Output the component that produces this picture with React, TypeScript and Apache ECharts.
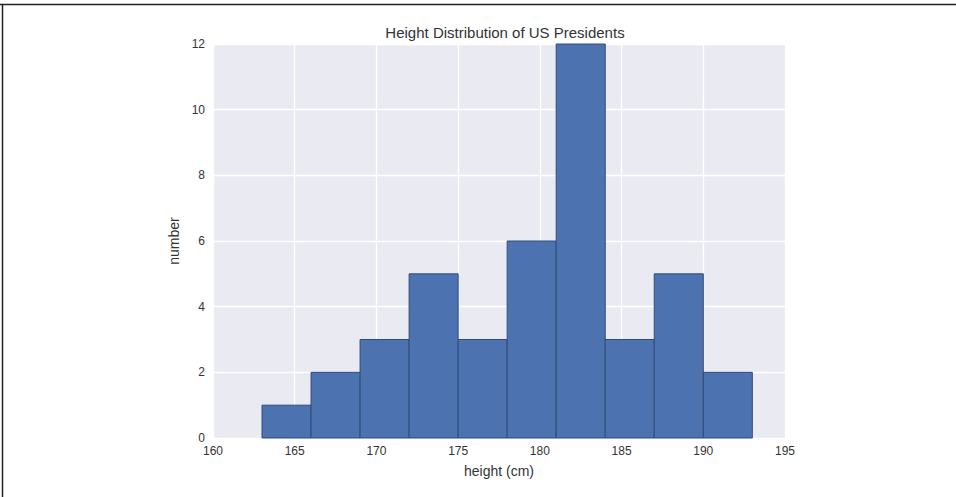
import React, { useEffect, useRef } from "react";
import * as echarts from "echarts";

const binEdges = [163, 166, 169, 172, 175, 178, 181, 184, 187, 190, 193];
const counts = [1, 2, 3, 5, 3, 6, 12, 3, 5, 2];
const xTicks = [160, 165, 170, 175, 180, 185, 190, 195];
const yTicks = [0, 2, 4, 6, 8, 10, 12];

export default function App() {
  const ref = useRef<HTMLDivElement>(null);
  useEffect(() => {
    if (!ref.current) return;
    const chart = echarts.init(ref.current, undefined, { renderer: "svg" });
    const data = counts.map((c, i) => [binEdges[i], binEdges[i + 1], c]);
    const font = "Liberation Sans, Arial, sans-serif";
    const txt = "#333333";
    chart.setOption({
      animation: false,
      backgroundColor: "#ffffff",
      title: {
        text: "Height Distribution of US Presidents",
        left: 500,
        top: 20,
        textAlign: "center",
        textStyle: { fontFamily: font, fontSize: 15, fontWeight: "normal", color: txt },
      },
      grid: { left: 213, right: 171, top: 44, bottom: 59, backgroundColor: "#EAEAF2", show: true, borderWidth: 0 },
      xAxis: {
        type: "value",
        min: xTicks[0],
        max: xTicks[xTicks.length - 1],
        interval: 5,
        name: "height (cm)",
        nameLocation: "middle",
        nameGap: 26,
        nameTextStyle: { fontFamily: font, fontSize: 14, color: txt },
        axisLine: { show: false },
        axisTick: { show: false },
        axisLabel: { fontFamily: font, fontSize: 12, color: txt, margin: 7 },
        splitLine: { show: true, lineStyle: { color: "#ffffff", width: 1.3 } },
      },
      yAxis: {
        type: "value",
        min: yTicks[0],
        max: yTicks[yTicks.length - 1],
        interval: 2,
        name: "number",
        nameLocation: "middle",
        nameGap: 31,
        nameTextStyle: { fontFamily: font, fontSize: 14, color: txt },
        axisLine: { show: false },
        axisTick: { show: false },
        axisLabel: { fontFamily: font, fontSize: 12, color: txt, margin: 8 },
        splitLine: { show: true, lineStyle: { color: "#ffffff", width: 1.3 } },
      },
      series: [
        {
          type: "custom",
          data,
          encode: { x: [0, 1], y: 2 },
          renderItem: (params: any, api: any) => {
            const p0 = api.coord([api.value(0), api.value(2)]);
            const p1 = api.coord([api.value(1), 0]);
            return {
              type: "rect",
              shape: { x: p0[0], y: p0[1], width: p1[0] - p0[0], height: p1[1] - p0[1] },
              style: { fill: "#4C72B0", stroke: "#2F4B7C", lineWidth: 1 },
            };
          },
        },
      ],
      graphic: [
        { type: "line", shape: { x1: 0, y1: 4.5, x2: 956, y2: 4.5 }, style: { stroke: "#222", lineWidth: 1.5 } },
        { type: "line", shape: { x1: 2.5, y1: 4, x2: 2.5, y2: 497 }, style: { stroke: "#222", lineWidth: 1.5 } },
      ],
    });
    return () => chart.dispose();
  }, []);
  return <div ref={ref} style={{ position: "fixed", left: 0, top: 0, width: 956, height: 497 }} />;
}
